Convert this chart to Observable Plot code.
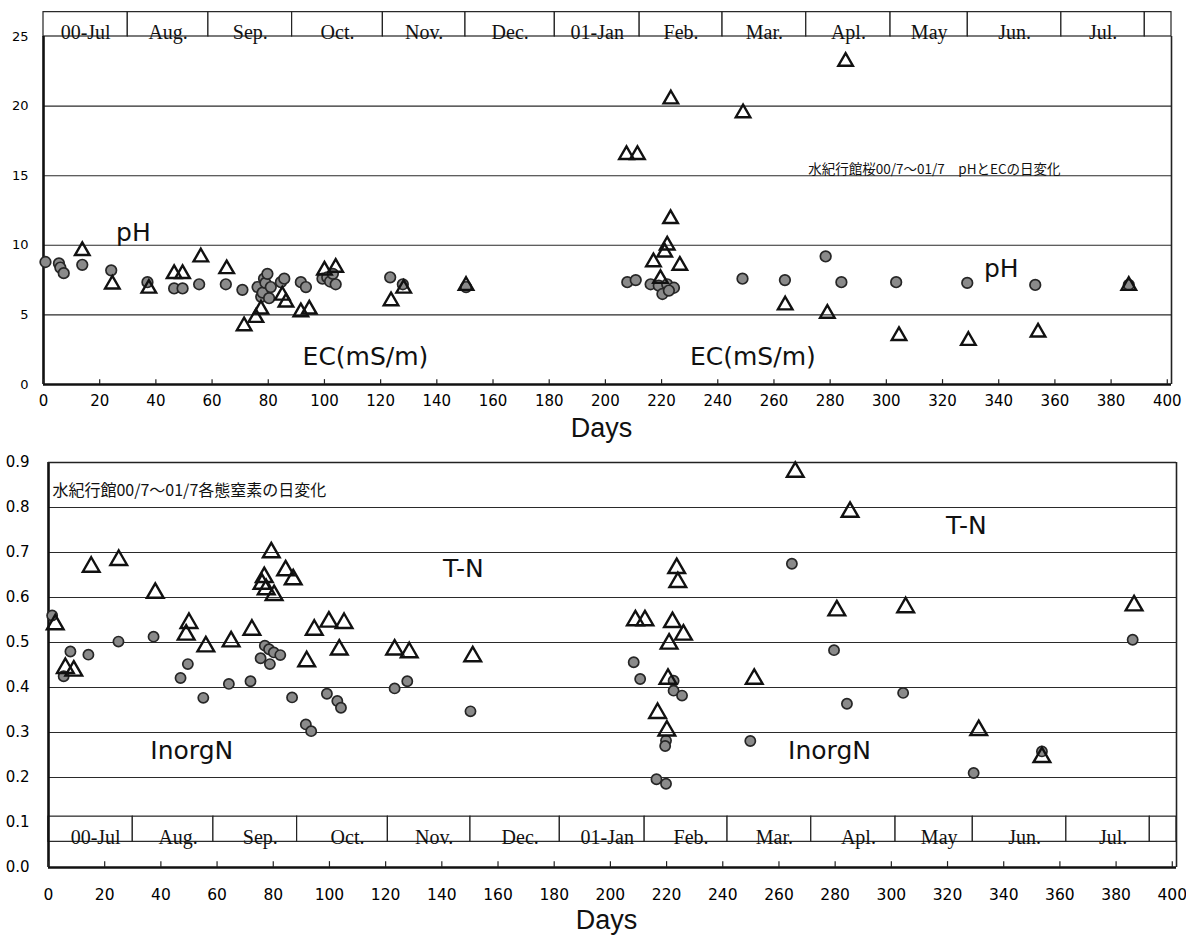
<!DOCTYPE html>
<html><head><meta charset="utf-8">
<script src="https://cdn.jsdelivr.net/npm/d3@7"></script>
<script src="https://cdn.jsdelivr.net/npm/@observablehq/plot@0.6"></script>
<style>
html,body{margin:0;padding:0;background:#fff;}
#wrap{width:1186px;height:940px;overflow:hidden;background:#fff;}
#wrap svg{display:block;overflow:visible;}
</style></head><body><div id="wrap"></div>
<script>
// ---- shared axis / month band data ----
const xTicks = [0,20,40,60,80,100,120,140,160,180,200,220,240,260,280,300,320,340,360,380,400];
const monthEdges = [0,30,58.7,88.5,120.8,150.2,182,212.2,241.7,271.5,301.5,329,362.3,392,401.5];
const monthLabels = ["00-Jul","Aug.","Sep.","Oct.","Nov.","Dec.","01-Jan","Feb.","Mar.","Apl.","May","Jun.","Jul.",""];

// ---- top panel: pH (circles) and EC (triangles) ----
const topYTicks = [0,5,10,15,20,25];
const topGrid = [5,10,15,20];
const phPoints = [[0.7,8.8],[5.5,8.7],[6,8.4],[7.2,8.0],[13.8,8.6],[24.1,8.2],[37,7.35],[46.5,6.9],[49.5,6.9],[55.4,7.2],[64.9,7.2],[70.8,6.8],[76.2,7.0],[77.5,6.3],[78.0,6.6],[78.5,7.6],[79,7.3],[79.7,7.95],[80.3,6.2],[80.9,7.0],[84.5,7.35],[85.7,7.6],[91.6,7.35],[93.4,7.0],[99.3,7.6],[101,7.7],[102,7.4],[103,7.95],[104,7.2],[123.4,7.7],[127.9,7.2],[150.4,7.0],[207.8,7.35],[210.8,7.5],[216.1,7.2],[219.0,7.1],[222.0,7.2],[220.3,6.5],[224.4,6.95],[222.6,6.75],[248.8,7.6],[263.9,7.5],[278.4,9.2],[284,7.35],[303.5,7.35],[328.8,7.3],[353,7.15],[386.3,7.15]];
const ecPoints = [[13.8,9.6],[24.5,7.2],[37.5,6.9],[46.5,7.95],[49.5,7.95],[56,9.15],[65.2,8.3],[71.4,4.2],[75.6,4.8],[77.4,5.4],[85,6.4],[86.3,5.9],[91.6,5.2],[94.6,5.4],[100,8.2],[104,8.4],[123.7,6.0],[128.2,6.9],[150.4,7.1],[207.5,16.5],[211.4,16.5],[217.1,8.8],[219.6,7.6],[221.1,9.5],[222.0,10.0],[223.2,11.9],[223.3,20.5],[226.5,8.55],[249,19.5],[264,5.7],[279,5.1],[285.5,23.2],[304.5,3.5],[329.2,3.15],[354,3.75],[386.3,7.1]];
const topLabels = [
  {d:32, v:10.85, t:"pH"},
  {d:340.9, v:8.33, t:"pH"},
  {d:114.6, v:1.94, t:"EC(mS/m)"},
  {d:252.5, v:1.96, t:"EC(mS/m)"}
];
const topNote = "水紀行館桜00/7～01/7　pHとECの日変化";

// ---- bottom panel: InorgN (circles) and T-N (triangles) ----
const botYTicks = [0,0.1,0.2,0.3,0.4,0.5,0.6,0.7,0.8,0.9];
const botGrid = [0.2,0.3,0.4,0.5,0.6,0.7,0.8];
const inorgPoints = [[1.3,0.56],[5.4,0.425],[7.8,0.48],[14.2,0.473],[24.9,0.502],[37.4,0.513],[47,0.421],[49.6,0.452],[55.1,0.377],[64.2,0.408],[71.9,0.414],[75.5,0.465],[77,0.493],[78.5,0.485],[78.8,0.452],[80.2,0.478],[82.5,0.472],[86.7,0.378],[91.6,0.318],[93.5,0.303],[99.1,0.386],[102.8,0.37],[104.1,0.355],[123.2,0.398],[127.7,0.414],[150.2,0.347],[208.3,0.456],[210.6,0.419],[222.5,0.415],[222.5,0.393],[225.5,0.382],[219.8,0.282],[219.5,0.27],[216.4,0.196],[219.8,0.186],[249.8,0.281],[264.6,0.675],[279.6,0.483],[284.2,0.364],[304.2,0.388],[329.3,0.21],[353.6,0.258],[385.9,0.506]];
const tnPoints = [[2.4,0.54],[6,0.443],[9,0.437],[15.2,0.668],[25,0.683],[38,0.61],[49,0.517],[50,0.543],[56,0.491],[65,0.502],[72.4,0.528],[76,0.63],[76.8,0.645],[77.5,0.618],[79.3,0.70],[80.3,0.605],[84.4,0.66],[87.1,0.64],[91.9,0.458],[94.6,0.528],[99.8,0.546],[103.5,0.484],[105.2,0.543],[123.2,0.484],[128.4,0.478],[151,0.469],[208.9,0.549],[212.3,0.549],[216.8,0.343],[220.1,0.304],[220.5,0.419],[220.9,0.497],[222.1,0.545],[223.6,0.665],[224,0.634],[226,0.517],[251.2,0.419],[265.8,0.879],[280.6,0.571],[285.3,0.79],[305.1,0.578],[331.1,0.305],[353.6,0.245],[386.4,0.582]];
const botLabels = [
  {d:147.7, v:0.663, t:"T-N"},
  {d:326.7, v:0.758, t:"T-N"},
  {d:51, v:0.26, t:"InorgN"},
  {d:278, v:0.26, t:"InorgN"}
];
const botNote = "水紀行館00/7～01/7各態窒素の日変化";

const cells = monthLabels.map((m, i) => ({label: m, x1: monthEdges[i], x2: monthEdges[i + 1]}));
const xMax = monthEdges[monthEdges.length - 1];

function panel(c) {
  return Plot.plot({
    width: 1186, height: c.height,
    marginTop: c.mt, marginBottom: c.mb, marginLeft: c.ml, marginRight: c.mr,
    x: {domain: [0, xMax]},
    y: {domain: c.yDomain},
    style: {background: "white", color: "black", fontFamily: "DejaVu Sans", fontSize: "14px", overflow: "visible"},
    marks: [
      Plot.ruleY(c.grid, {x1: 0, x2: xMax, stroke: "#2a2a2a", strokeWidth: 1.1}),
      Plot.rect(cells, {x1: "x1", x2: "x2", y1: c.band[0], y2: c.band[1], fill: "white", stroke: "#222", strokeWidth: 1.2}),
      Plot.text(cells, {x: d => (d.x1 + d.x2) / 2, y: c.band[0], text: "label", lineAnchor: "bottom", dy: c.bandDy, dx: c.bandDx,
        fontFamily: "Liberation Serif", fontSize: 20, fill: "#111"}),
      Plot.ruleX([0], {y1: 0, y2: c.yDomain[1], stroke: "#111", strokeWidth: 2.6}),
      Plot.ruleX([xMax], {y1: 0, y2: c.yDomain[1], stroke: "#222", strokeWidth: 1.6}),
      Plot.ruleY([0], {x1: 0, x2: xMax, stroke: "#111", strokeWidth: 2.6}),
      ...(c.topLine ? [Plot.ruleY([c.yDomain[1]], {x1: 0, x2: xMax, stroke: "#222", strokeWidth: 1.6})] : []),
      Plot.ruleX(xTicks, {x: d => d, y1: 0, y2: c.tickLen, stroke: "#222", strokeWidth: 1.2}),
      Plot.dot(c.circles, {x: d => d[0], y: d => d[1], r: c.cr, fill: "#8a8a8a", stroke: "#262626", strokeWidth: 1.7}),
      Plot.dot(c.triangles, {x: d => d[0], y: d => d[1], symbol: "triangle", r: c.tr, fill: "none", stroke: "#111", strokeWidth: 2.4}),
      Plot.text(c.labels, {x: "d", y: "v", text: "t", fontFamily: "DejaVu Sans", fontSize: 25, fill: "#111"}),
      Plot.text([c.note.t], {x: c.note.d, y: c.note.v, text: d => d, textAnchor: "start", fontFamily: "Noto Sans CJK JP", fontSize: c.note.fs, fill: "#111"}),
      Plot.text(["Days"], {frameAnchor: "bottom", dy: c.daysDy, dx: -6, text: d => d, fontFamily: "Liberation Sans", fontSize: 27, fill: "#111"}),
      Plot.axisX({ticks: xTicks, tickSize: 0, tickPadding: c.xPad, label: null, fontSize: c.xFs, fontFamily: "DejaVu Sans"}),
      Plot.axisY({ticks: c.yTicks, tickSize: 0, tickPadding: c.yPad, label: null, tickFormat: c.yFmt, fontSize: c.yFs, fontFamily: "DejaVu Sans"})
    ]
  });
}

const wrap = document.getElementById("wrap");
wrap.appendChild(panel({
  height: 450, mt: 36, mb: 66, ml: 43, mr: 15,
  yDomain: [0, 25], yTicks: topYTicks, yFmt: d => String(d), grid: topGrid,
  band: [25, 26.75], bandDy: 2, bandDx: 0, topLine: false, tickLen: 0.35,
  circles: phPoints, triangles: ecPoints, cr: 5.3, tr: 5.4,
  labels: topLabels, note: {t: topNote, d: 272.2, v: 15.45, fs: 13.5},
  daysDy: 52, xPad: 11, xFs: 15, yPad: 15, yFs: 13
}));
wrap.appendChild(panel({
  height: 490, mt: 12, mb: 73, ml: 48, mr: 10,
  yDomain: [0, 0.9], yTicks: botYTicks, yFmt: d => d.toFixed(1), grid: botGrid,
  band: [0.057, 0.113], bandDy: 2, bandDx: 5, topLine: true, tickLen: 0.013,
  circles: inorgPoints, triangles: tnPoints, cr: 5.1, tr: 6.2,
  labels: botLabels, note: {t: botNote, d: 1.4, v: 0.838, fs: 16},
  daysDy: 61, xPad: 21, xFs: 15.5, yPad: 19, yFs: 15
}));
</script></body></html>
